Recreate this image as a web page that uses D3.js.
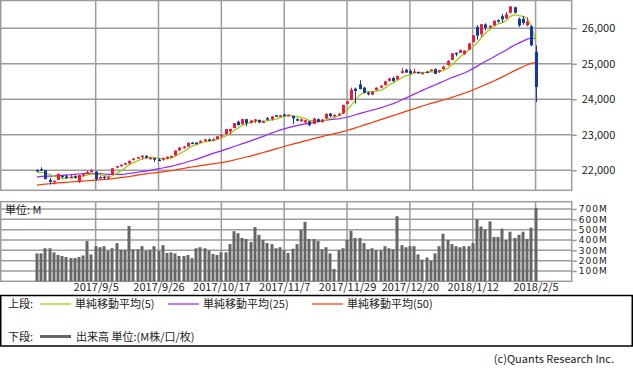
<!DOCTYPE html>
<html lang="ja">
<head>
<meta charset="utf-8">
<script src="https://cdn.jsdelivr.net/npm/d3@7"></script>
<style>
  body { margin: 0; background: #fff; }
  svg text { font-family: "Noto Sans CJK JP", sans-serif; font-size: 11px; fill: #222; }
</style>
</head>
<body>
<svg id="chart" width="633" height="370"></svg>
<script>
// --- DATA ---
const dates = [
  "2017/8/15","2017/8/16","2017/8/17","2017/8/18","2017/8/21","2017/8/22","2017/8/23","2017/8/24","2017/8/25","2017/8/28",
  "2017/8/29","2017/8/30","2017/8/31","2017/9/1","2017/9/5","2017/9/6","2017/9/7","2017/9/8","2017/9/11","2017/9/12",
  "2017/9/13","2017/9/14","2017/9/15","2017/9/18","2017/9/19","2017/9/20","2017/9/21","2017/9/22","2017/9/25","2017/9/26",
  "2017/9/27","2017/9/28","2017/9/29","2017/10/2","2017/10/3","2017/10/4","2017/10/5","2017/10/6","2017/10/9","2017/10/10",
  "2017/10/11","2017/10/12","2017/10/13","2017/10/16","2017/10/17","2017/10/18","2017/10/19","2017/10/20","2017/10/23","2017/10/24",
  "2017/10/25","2017/10/26","2017/10/27","2017/10/30","2017/10/31","2017/11/1","2017/11/2","2017/11/3","2017/11/6","2017/11/7",
  "2017/11/8","2017/11/9","2017/11/10","2017/11/13","2017/11/14","2017/11/15","2017/11/16","2017/11/17","2017/11/20","2017/11/21",
  "2017/11/22","2017/11/24","2017/11/27","2017/11/28","2017/11/29","2017/11/30","2017/12/1","2017/12/4","2017/12/5","2017/12/6",
  "2017/12/7","2017/12/8","2017/12/11","2017/12/12","2017/12/13","2017/12/14","2017/12/15","2017/12/18","2017/12/19","2017/12/20",
  "2017/12/21","2017/12/22","2017/12/26","2017/12/27","2017/12/28","2017/12/29","2018/1/2","2018/1/3","2018/1/4","2018/1/5",
  "2018/1/8","2018/1/9","2018/1/10","2018/1/11","2018/1/12","2018/1/16","2018/1/17","2018/1/18","2018/1/19","2018/1/22",
  "2018/1/23","2018/1/24","2018/1/25","2018/1/26","2018/1/29","2018/1/30","2018/1/31","2018/2/1","2018/2/2","2018/2/5"
];
const opens = [
  22005,22030,22005,21730,21670,21730,21850,21830,21800,21830,
  21690,21860,21900,21960,21960,21800,21820,21780,21890,22080,
  22120,22160,22200,22290,22340,22370,22410,22340,22340,22300,
  22310,22340,22380,22420,22560,22640,22670,22780,22780,22780,
  22830,22870,22850,22880,22960,23020,23100,23190,23370,23300,
  23440,23340,23400,23420,23350,23470,23440,23550,23530,23570,
  23550,23530,23440,23380,23350,23380,23310,23440,23360,23460,
  23600,23540,23560,23600,23870,23980,24300,24420,24330,24190,
  24130,24260,24330,24400,24520,24600,24560,24740,24830,24800,
  24760,24770,24720,24780,24800,24850,24810,24850,24960,25110,
  25310,25310,25280,25400,25610,26040,25830,26110,26020,26080,
  26230,26340,26280,26440,26590,26270,26270,26080,26060,25340
];
const highs = [
  22030,22085,22010,21790,21710,21910,21860,21880,21900,21860,
  21870,21910,21990,22040,21980,21850,21830,21850,22060,22120,
  22160,22210,22270,22340,22380,22420,22420,22380,22350,22340,
  22360,22390,22410,22560,22650,22690,22780,22790,22790,22840,
  22880,22900,22900,22960,23000,23170,23170,23330,23400,23450,
  23450,23420,23440,23430,23400,23500,23530,23560,23560,23600,
  23570,23540,23470,23450,23420,23390,23480,23460,23440,23600,
  23610,23580,23620,23850,23970,24330,24330,24540,24350,24210,
  24230,24330,24390,24520,24610,24640,24670,24880,24860,24850,
  24860,24780,24770,24800,24840,24870,24830,24940,25110,25300,
  25320,25400,25380,25590,25810,26090,26120,26140,26080,26220,
  26250,26400,26460,26620,26610,26300,26340,26300,26080,25520
];
const lows = [
  21965,21990,21750,21600,21600,21725,21780,21760,21780,21760,
  21640,21830,21890,21950,21710,21760,21740,21770,21880,22060,
  22100,22150,22170,22280,22330,22300,22320,22320,22240,22260,
  22270,22310,22350,22410,22550,22620,22660,22740,22730,22770,
  22800,22820,22840,22870,22930,23010,23010,23180,23260,23290,
  23240,23320,23330,23320,23340,23400,23400,23500,23500,23520,
  23520,23300,23380,23370,23300,23240,23300,23350,23340,23450,
  23500,23520,23540,23590,23860,23970,23880,24280,24170,24110,
  24120,24250,24320,24390,24500,24500,24550,24730,24740,24700,
  24750,24720,24710,24740,24790,24710,24740,24840,24950,25100,
  25210,25300,25250,25390,25600,25680,25760,25940,25990,26070,
  26160,26160,26270,26410,26420,26040,26100,26060,25490,23920
];
const closes = [
  21999,22025,21751,21675,21704,21900,21812,21783,21814,21808,
  21865,21892,21948,21988,21753,21808,21785,21798,22057,22119,
  22158,22203,22268,22331,22371,22413,22359,22350,22296,22284,
  22341,22381,22405,22558,22642,22662,22775,22774,22761,22831,
  22873,22841,22872,22957,22997,23158,23163,23329,23274,23442,
  23329,23401,23434,23349,23377,23435,23516,23539,23548,23557,
  23563,23462,23422,23440,23409,23271,23458,23358,23430,23591,
  23526,23558,23581,23837,23941,24272,24232,24290,24181,24141,
  24211,24329,24386,24505,24585,24509,24652,24792,24755,24727,
  24782,24754,24746,24774,24838,24719,24824,24923,25075,25296,
  25283,25386,25369,25575,25803,25793,26116,26018,26072,26215,
  26211,26252,26393,26617,26439,26077,26149,26187,25521,24346
];
// closes before the window (2017/6/6 - 2017/8/14), used to start the moving averages
const priorCloses = [
  21136,21174,21183,21272,21236,21328,21375,21360,21384,21529,
  21467,21410,21397,21395,21410,21311,21455,21287,21350,
  21479,21478,21320,21414,21409,21409,21532,21553,21638,21630,
  21575,21641,21612,21580,21513,21613,21711,21797,21830,21891,
  21964,22016,22026,22093,22118,22085,22049,21844,21858,21994
];
// volume, M
const volumes = [
  270,270,320,320,280,255,245,235,225,225,
  235,250,390,260,340,330,340,295,320,370,
  305,305,535,310,310,340,295,305,340,295,
  350,275,280,270,245,245,255,225,320,330,
  320,300,265,255,280,280,360,485,465,420,
  410,380,525,450,400,370,360,320,330,300,
  275,315,360,500,575,410,410,390,310,330,
  270,120,300,320,400,490,420,420,370,310,
  320,300,300,340,320,310,630,350,330,340,
  340,260,210,230,200,270,340,460,400,360,
  340,330,340,340,370,600,530,500,580,430,
  430,510,400,480,420,450,480,410,520,710
];
const xLabels = ["2017/9/5","2017/9/26","2017/10/17","2017/11/7","2017/11/29","2017/12/20","2018/1/12","2018/2/5"];
const priceTicks = [22000, 23000, 24000, 25000, 26000];
const volTicks = [100, 200, 300, 400, 500, 600, 700];
const maPeriods = [5, 25, 50];
const maNames = ["単純移動平均(5)", "単純移動平均(25)", "単純移動平均(50)"];

// --- LAYOUT ---
const svg = d3.select("#chart");
const gridColor = "#9c9c9c";
const upColor = "#f0183c", downColor = "#163a9c";
const maColors = ["#99cc00", "#9922ff", "#ff3300"];
const panelRight = 571.7;
const priceTop = 0.5, priceBottom = 190.3;
const volTop = 201.7, volBottom = 281.3;

const x = d3.scalePoint().domain(dates).range([37, 535.6]);
const yP = d3.scaleLinear().domain([22000, 26000]).range([170.3, 28.3]);
const yV = d3.scaleLinear().domain([0, 700]).range([volBottom, 209]);

// --- GRID ---
const grid = svg.append("g").attr("stroke", gridColor).attr("stroke-width", 1.5);
grid.selectAll(".hp").data(priceTicks).enter().append("line")
  .attr("x1", 0).attr("x2", panelRight).attr("y1", d => yP(d)).attr("y2", d => yP(d));
grid.selectAll(".hv").data(volTicks).enter().append("line")
  .attr("x1", 0).attr("x2", panelRight).attr("y1", d => yV(d)).attr("y2", d => yV(d));
grid.selectAll(".vp").data(xLabels).enter().append("line")
  .attr("x1", d => x(d)).attr("x2", d => x(d)).attr("y1", priceTop).attr("y2", priceBottom);
grid.selectAll(".vv").data(xLabels).enter().append("line")
  .attr("x1", d => x(d)).attr("x2", d => x(d)).attr("y1", volTop).attr("y2", volBottom);
grid.append("rect").attr("x", 0.75).attr("y", priceTop).attr("width", panelRight - 0.75)
  .attr("height", priceBottom - priceTop).attr("fill", "none");
grid.append("rect").attr("x", 0.75).attr("y", volTop).attr("width", panelRight - 0.75)
  .attr("height", volBottom - volTop).attr("fill", "none");

// --- AXES ---
const styleAxis = (g, font, size, spacing) => {
  g.select(".domain").remove();
  g.selectAll("line").attr("stroke", gridColor).attr("stroke-width", 1.5);
  g.selectAll("text").style("font-family", font).style("font-size", size + "px")
    .style("letter-spacing", (spacing || 0) + "px").attr("fill", "#222");
};
svg.append("g").attr("transform", `translate(${panelRight},0)`)
  .call(d3.axisRight(yP).tickValues(priceTicks).tickFormat(d3.format(",")).tickSize(5).tickPadding(5))
  .call(styleAxis, "'Noto Sans CJK JP', sans-serif", 11);
svg.append("g").attr("transform", `translate(${panelRight},0)`)
  .call(d3.axisRight(yV).tickValues(volTicks).tickFormat(d => d + "M").tickSize(5).tickPadding(2))
  .call(styleAxis, "'DejaVu Sans', sans-serif", 9, 1);
svg.append("g").attr("transform", `translate(0,${volBottom})`)
  .call(d3.axisBottom(x).tickValues(xLabels).tickSize(0).tickPadding(2))
  .call(styleAxis, "'Noto Sans CJK JP', sans-serif", 11);

// --- VOLUME ---
svg.append("g").selectAll("rect").data(volumes).enter().append("rect")
  .attr("x", (d, i) => Math.round(x(dates[i])) - 1.5)
  .attr("y", d => yV(d))
  .attr("width", 3)
  .attr("height", d => volBottom - yV(d))
  .attr("fill", "#666");
svg.append("text").attr("x", 5).attr("y", 214).style("font-size", "11px").text("単位: M");

// --- MOVING AVERAGES ---
const allCloses = priorCloses.concat(closes);
const sma = n => closes.map((c, i) => {
  const end = i + priorCloses.length + 1;
  return d3.mean(allCloses.slice(end - n, end));
});
const line = d3.line().x((d, i) => x(dates[i])).y(d => yP(d));
maPeriods.slice().reverse().forEach((n, k) => {
  const idx = maPeriods.length - 1 - k;
  svg.append("path").datum(sma(n))
    .attr("fill", "none").attr("stroke", maColors[idx]).attr("stroke-width", 1.2)
    .attr("d", line);
});

// --- CANDLES ---
const candles = svg.append("g").selectAll("g").data(dates).enter().append("g");
const colorOf = i => closes[i] >= opens[i] ? upColor : downColor;
candles.append("line")
  .attr("x1", (d, i) => Math.round(x(d)) + 0.5).attr("x2", (d, i) => Math.round(x(d)) + 0.5)
  .attr("y1", (d, i) => yP(highs[i])).attr("y2", (d, i) => yP(lows[i]))
  .attr("stroke", (d, i) => colorOf(i)).attr("stroke-width", 1);
candles.append("rect")
  .attr("x", (d, i) => Math.round(x(d)) - 1)
  .attr("y", (d, i) => yP(Math.max(opens[i], closes[i])))
  .attr("width", 3)
  .attr("height", (d, i) => Math.max(1.5, Math.abs(yP(opens[i]) - yP(closes[i]))))
  .attr("fill", (d, i) => colorOf(i));

// --- LEGEND ---
const legend = svg.append("g");
legend.append("rect").attr("x", 0.75).attr("y", 295.5).attr("width", 631.5).attr("height", 50.5)
  .attr("fill", "none").attr("stroke", "#000").attr("stroke-width", 1.5);
legend.append("text").attr("x", 8).attr("y", 308).text("上段:");
const maLegendX = [40, 168, 312];
maNames.forEach((name, k) => {
  legend.append("line").attr("x1", maLegendX[k]).attr("x2", maLegendX[k] + 31)
    .attr("y1", 304).attr("y2", 304).attr("stroke", maColors[k]).attr("stroke-width", 1.2);
  legend.append("text").attr("x", maLegendX[k] + 35).attr("y", 308).text(name);
});
legend.append("text").attr("x", 8).attr("y", 340.5).text("下段:");
legend.append("line").attr("x1", 40).attr("x2", 71).attr("y1", 336.5).attr("y2", 336.5)
  .attr("stroke", "#666").attr("stroke-width", 3);
legend.append("text").attr("x", 76).attr("y", 340.5).text("出来高 単位:(M株/口/枚)");

svg.append("text").attr("x", 614).attr("y", 363).attr("text-anchor", "end")
  .attr("fill", "#555").text("(c)Quants Research Inc.");
</script>
</body>
</html>
